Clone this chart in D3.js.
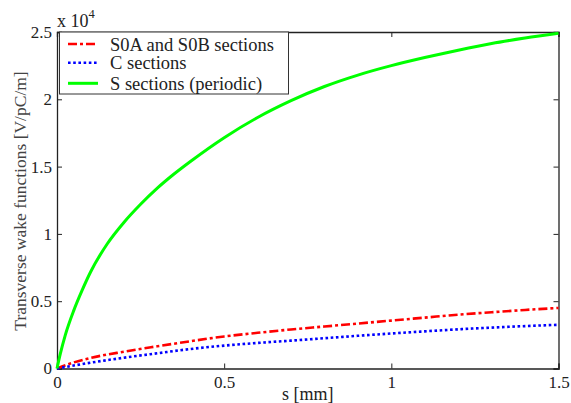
<!DOCTYPE html>
<html>
<head>
<meta charset="utf-8">
<script src="https://cdn.jsdelivr.net/npm/d3@7"></script>
<style>
  body { margin: 0; background: #fff; }
</style>
</head>
<body>
<div id="graph"></div>
<script>
// s [mm] and wake values in units of 1e4 V/pC/m
const sGreen = [0, 0.01, 0.025, 0.05, 0.075, 0.1, 0.15, 0.2, 0.25, 0.3, 0.35, 0.4, 0.5, 0.6, 0.7, 0.8, 0.9, 1.0, 1.1, 1.2, 1.3, 1.4, 1.5];
const sections = [0, 0.11, 0.25, 0.43, 0.58, 0.715, 0.925, 1.085, 1.22, 1.34, 1.445, 1.54, 1.715, 1.865, 1.99, 2.095, 2.18, 2.25, 2.31, 2.365, 2.415, 2.455, 2.49];

const sLow = [0, 0.05, 0.1, 0.2, 0.3, 0.4, 0.5, 0.6, 0.7, 0.8, 0.9, 1.0, 1.1, 1.2, 1.3, 1.4, 1.5];
const s0aS0b = [0, 0.045, 0.078, 0.125, 0.165, 0.203, 0.238, 0.265, 0.29, 0.312, 0.334, 0.356, 0.378, 0.4, 0.418, 0.435, 0.45];
const cSections = [0, 0.022, 0.043, 0.08, 0.113, 0.145, 0.17, 0.19, 0.207, 0.225, 0.243, 0.26, 0.276, 0.291, 0.304, 0.315, 0.325];

const xTicks = [0, 0.5, 1, 1.5];
const yTicks = [0, 0.5, 1, 1.5, 2, 2.5];
const legendLabels = ["S0A and S0B sections", "C sections", "S sections (periodic)"];

const width = 571;
const height = 403;
const margin = { left: 57, right: 12, top: 32, bottom: 35 };
const serif = "Liberation Serif";

const svg = d3.select("#graph")
  .append("svg")
  .attr("width", width)
  .attr("height", height);

const xScale = d3.scaleLinear()
  .domain([0, 1.5])
  .range([margin.left, width - margin.right - 0.5]);

const yScale = d3.scaleLinear()
  .domain([0, 2.5])
  .range([height - margin.bottom + 0.5, margin.top]);

const fmt = d => d === 0 ? "0" : String(d);

// axes with inward ticks, also mirrored on top and right
const xAxis = d3.axisBottom(xScale).tickValues(xTicks).tickSize(-5).tickPadding(7.5).tickFormat(fmt);
const yAxis = d3.axisLeft(yScale).tickValues(yTicks).tickSize(-5).tickPadding(5).tickFormat(fmt);

svg.append("g")
  .attr("transform", `translate(0, ${yScale(0)})`)
  .call(xAxis);
svg.append("g")
  .attr("transform", `translate(${xScale(0)}, 0)`)
  .call(yAxis);

svg.append("g")
  .attr("transform", `translate(0, ${yScale(2.5)})`)
  .call(d3.axisTop(xScale).tickValues(xTicks).tickSize(-5).tickFormat(""));
svg.append("g")
  .attr("transform", `translate(${xScale(1.5)}, 0)`)
  .call(d3.axisRight(yScale).tickValues(yTicks).tickSize(-5).tickFormat(""));

svg.selectAll(".domain").attr("stroke", "#222").attr("stroke-width", 1.3);
svg.selectAll(".tick line").attr("stroke", "#222");
svg.selectAll(".tick text")
  .style("font-family", serif)
  .style("font-size", "17px")
  .attr("fill", "#222");

// lines
const line = d3.line()
  .x(d => xScale(d[0]))
  .y(d => yScale(d[1]))
  .curve(d3.curveMonotoneX);

const series = [
  { s: sLow, v: s0aS0b, color: "#ff0000", dash: "9,3,3,3", w: 2.6 },
  { s: sLow, v: cSections, color: "#0000ff", dash: "2.6,2.6", w: 2.6 },
  { s: sGreen, v: sections, color: "#00ff00", dash: null, w: 3 }
];

series.forEach(sr => {
  svg.append("path")
    .datum(sr.s.map((s, i) => [s, sr.v[i]]))
    .attr("fill", "none")
    .attr("stroke", sr.color)
    .attr("stroke-width", sr.w)
    .attr("stroke-dasharray", sr.dash)
    .attr("d", line);
});

// legend
const legend = svg.append("g");
legend.append("rect")
  .attr("x", 59.5).attr("y", 32)
  .attr("width", 229).attr("height", 62)
  .attr("fill", "#fff")
  .attr("stroke", "#333")
  .attr("stroke-width", 1);

legendLabels.forEach((label, i) => {
  const y = [44, 62.7, 83.3][i];
  const sr = series[i];
  legend.append("line")
    .attr("x1", 68).attr("x2", 98)
    .attr("y1", y).attr("y2", y)
    .attr("stroke", sr.color)
    .attr("stroke-width", sr.w)
    .attr("stroke-dasharray", sr.dash);
  legend.append("text")
    .attr("x", 110).attr("y", y + 6.5)
    .style("font-family", serif)
    .style("font-size", "18.5px")
    .attr("fill", "#222")
    .text(label);
});

// exponent label
const expo = svg.append("text")
  .attr("x", 57).attr("y", 26.5)
  .style("font-family", serif)
  .style("font-size", "18px")
  .attr("fill", "#222");
expo.append("tspan").text("x 10");
expo.append("tspan").attr("dy", -8.5).style("font-size", "12.5px").text("4");

// axis labels
svg.append("text")
  .attr("x", (xScale(0) + xScale(1.5)) / 2)
  .attr("y", 400)
  .attr("text-anchor", "middle")
  .style("font-family", serif)
  .style("font-size", "18px")
  .attr("fill", "#222")
  .text("s [mm]");

svg.append("text")
  .attr("transform", `translate(26, 201) rotate(-90)`)
  .attr("text-anchor", "middle")
  .style("font-family", serif)
  .style("font-size", "17.5px")
  .attr("fill", "#444")
  .text("Transverse wake functions [V/pC/m]");
</script>
</body>
</html>
